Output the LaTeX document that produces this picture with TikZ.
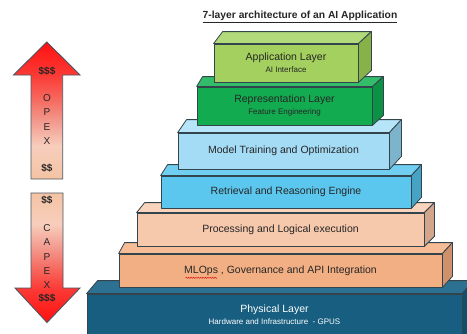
\documentclass[tikz,border=0pt]{standalone}
\usepackage{fontspec}
\setmainfont{Liberation Sans}
\usetikzlibrary{calc,decorations.pathmorphing}

\definecolor{edge}{HTML}{33444C}
\definecolor{txt}{HTML}{262626}
\definecolor{appF}{HTML}{A3D05E}\definecolor{appT}{HTML}{B3DA7A}\definecolor{appS}{HTML}{86B249}
\definecolor{repF}{HTML}{13AB50}\definecolor{repT}{HTML}{33BD6A}\definecolor{repS}{HTML}{0C9244}
\definecolor{modF}{HTML}{A4DCF5}\definecolor{modT}{HTML}{B6E4F8}\definecolor{modS}{HTML}{7DB3CB}
\definecolor{retF}{HTML}{5CC7EE}\definecolor{retT}{HTML}{70CFF1}\definecolor{retS}{HTML}{47A3C4}
\definecolor{proF}{HTML}{F6C8AC}\definecolor{proT}{HTML}{F9D3BC}\definecolor{proS}{HTML}{D3A58A}
\definecolor{mloF}{HTML}{F2AF84}\definecolor{mloT}{HTML}{F5BC96}\definecolor{mloS}{HTML}{CF916B}
\definecolor{phyF}{HTML}{175E80}\definecolor{phyT}{HTML}{2D7192}\definecolor{phyS}{HTML}{104F6C}
\definecolor{arrEdge}{HTML}{4A5560}
\definecolor{arrTxt}{HTML}{262626}
\definecolor{arrPeach}{HTML}{F4C3A4}
\definecolor{arrLight}{HTML}{F7CEBC}
\definecolor{arrPink}{HTML}{F29A8E}
\definecolor{arrRose}{HTML}{F66A60}
\definecolor{arrRedB}{HTML}{FB3A35}
\definecolor{arrRed}{HTML}{FF1010}

\pgfdeclareverticalshading{opexshade}{100bp}{color(0bp)=(arrPeach); color(25bp)=(arrPeach); color(37bp)=(arrLight); color(46bp)=(arrPink); color(54bp)=(arrRose); color(63bp)=(arrRedB); color(75bp)=(arrRed); color(100bp)=(arrRed)}
\pgfdeclareverticalshading{capexshade}{100bp}{color(0bp)=(arrRed); color(25bp)=(arrRed); color(38bp)=(arrRedB); color(46bp)=(arrRose); color(54bp)=(arrPink); color(63bp)=(arrLight); color(75bp)=(arrPeach); color(100bp)=(arrPeach)}

\tikzset{
  face/.style={draw=edge, line width=0.8pt, line join=round},
  front/.style={face, rectangle, inner sep=0pt, align=center, text=txt,
    font=\fontsize{10.5}{12}\selectfont},
  lbl/.style={font=\fontsize{10}{11}\selectfont, text=arrTxt, inner sep=0pt},
  arrowshape/.style={draw=arrEdge, line width=0.9pt, line join=miter},
}

% #1 node, #2 left depth, #3 right depth, #4 height of depth, #5 top colour, #6 side colour
\newcommand\layerslab[6]{%
  \filldraw[face, fill=#5] (#1.north west) -- ++(#2,-#4) -- ($(#1.north east)+(#3,-#4)$) -- (#1.north east) -- cycle;
  \filldraw[face, fill=#6] (#1.north east) -- ($(#1.north east)+(#3,-#4)$) -- ($(#1.south east)+(#3,-#4)$) -- (#1.south east) -- cycle;
}

\begin{document}
\begin{tikzpicture}[x=1pt,y=-1pt]
\useasboundingbox (0,0) rectangle (467,333);
\clip (0,0) rectangle (467,333);

% title
\node[font=\bfseries\fontsize{10.3}{12}\selectfont, text=txt, inner sep=0pt] (title) at (300,17)
  {\underline{7-layer architecture of an AI Application}};

% physical layer
\node[front, fill=phyF, minimum width=375pt, minimum height=56pt] (phys) at (274.5,322) {};
\layerslab{phys}{11}{11}{13}{phyT}{phyS}
\node[inner sep=0pt, align=center, text=white, font=\fontsize{10.5}{12}\selectfont] (physlbl) at (274.5,315)
  {Physical Layer\\{\fontsize{8}{9}\selectfont Hardware and Infrastructure \ - GPUS}};

% MLOps
\node[front, fill=mloF, minimum width=323pt, minimum height=33pt] (mlops) at (280.5,270.5)
  {MLOps , Governance and API Integration};
\layerslab{mlops}{6}{10}{11}{mloT}{mloS}
\draw[red!85!black, line width=0.4pt, decorate, decoration={snake, amplitude=0.6pt, segment length=2.4pt}]
  (185.5,277.8) -- (217,277.8);

% Processing
\node[front, fill=proF, minimum width=287pt, minimum height=33pt] (proc) at (280.5,229.5)
  {Processing and Logical execution};
\layerslab{proc}{8}{10}{10}{proT}{proS}

% Retrieval
\node[front, fill=retF, minimum width=250pt, minimum height=32pt] (retr) at (286,192)
  {Retrieval and Reasoning Engine};
\layerslab{retr}{7}{10}{11}{retT}{retS}

% Model training
\node[front, fill=modF, minimum width=211pt, minimum height=36pt] (model) at (283.5,151)
  {Model Training and Optimization};
\layerslab{model}{9}{12}{13}{modT}{modS}

% Representation
\node[front, fill=repF, minimum width=175pt, minimum height=38pt] (rep) at (284.5,106)
  {Representation Layer\\{\fontsize{8}{9}\selectfont Feature Engineering}};
\layerslab{rep}{6}{11}{10}{repT}{repS}

% Application
\node[front, fill=appF, minimum width=144pt, minimum height=38pt] (app) at (286,63)
  {Application Layer\\{\fontsize{8}{9}\selectfont AI Interface}};
\layerslab{app}{9}{13}{12}{appT}{appS}

% OPEX arrow (up)
\shadedraw[arrowshape, shading=opexshade]
  (31,179) -- (31,75) -- (13.5,75) -- (46.8,42) -- (80,75) -- (62.7,75) -- (62.7,179) -- cycle;
% CAPEX arrow (down)
\shadedraw[arrowshape, shading=capexshade]
  (31,193) -- (31,288) -- (15,288) -- (47,322.5) -- (80,288) -- (63,288) -- (63,193) -- cycle;

\foreach \t/\yy/\n in {\textbf{\$\$\$}/71/opA, O/98/opB, P/112.3/opC, E/126.7/opD, X/140.7/opE, \textbf{\$\$}/167.7/opF,
                       \textbf{\$\$}/200/caA, C/228.3/caB, A/242.5/caC, P/256.7/caD, E/270.8/caE, X/285/caF, \textbf{\$\$\$}/297.7/caG}
  \node[lbl] (\n) at (47,\yy) {\t};

\end{tikzpicture}
\end{document}
